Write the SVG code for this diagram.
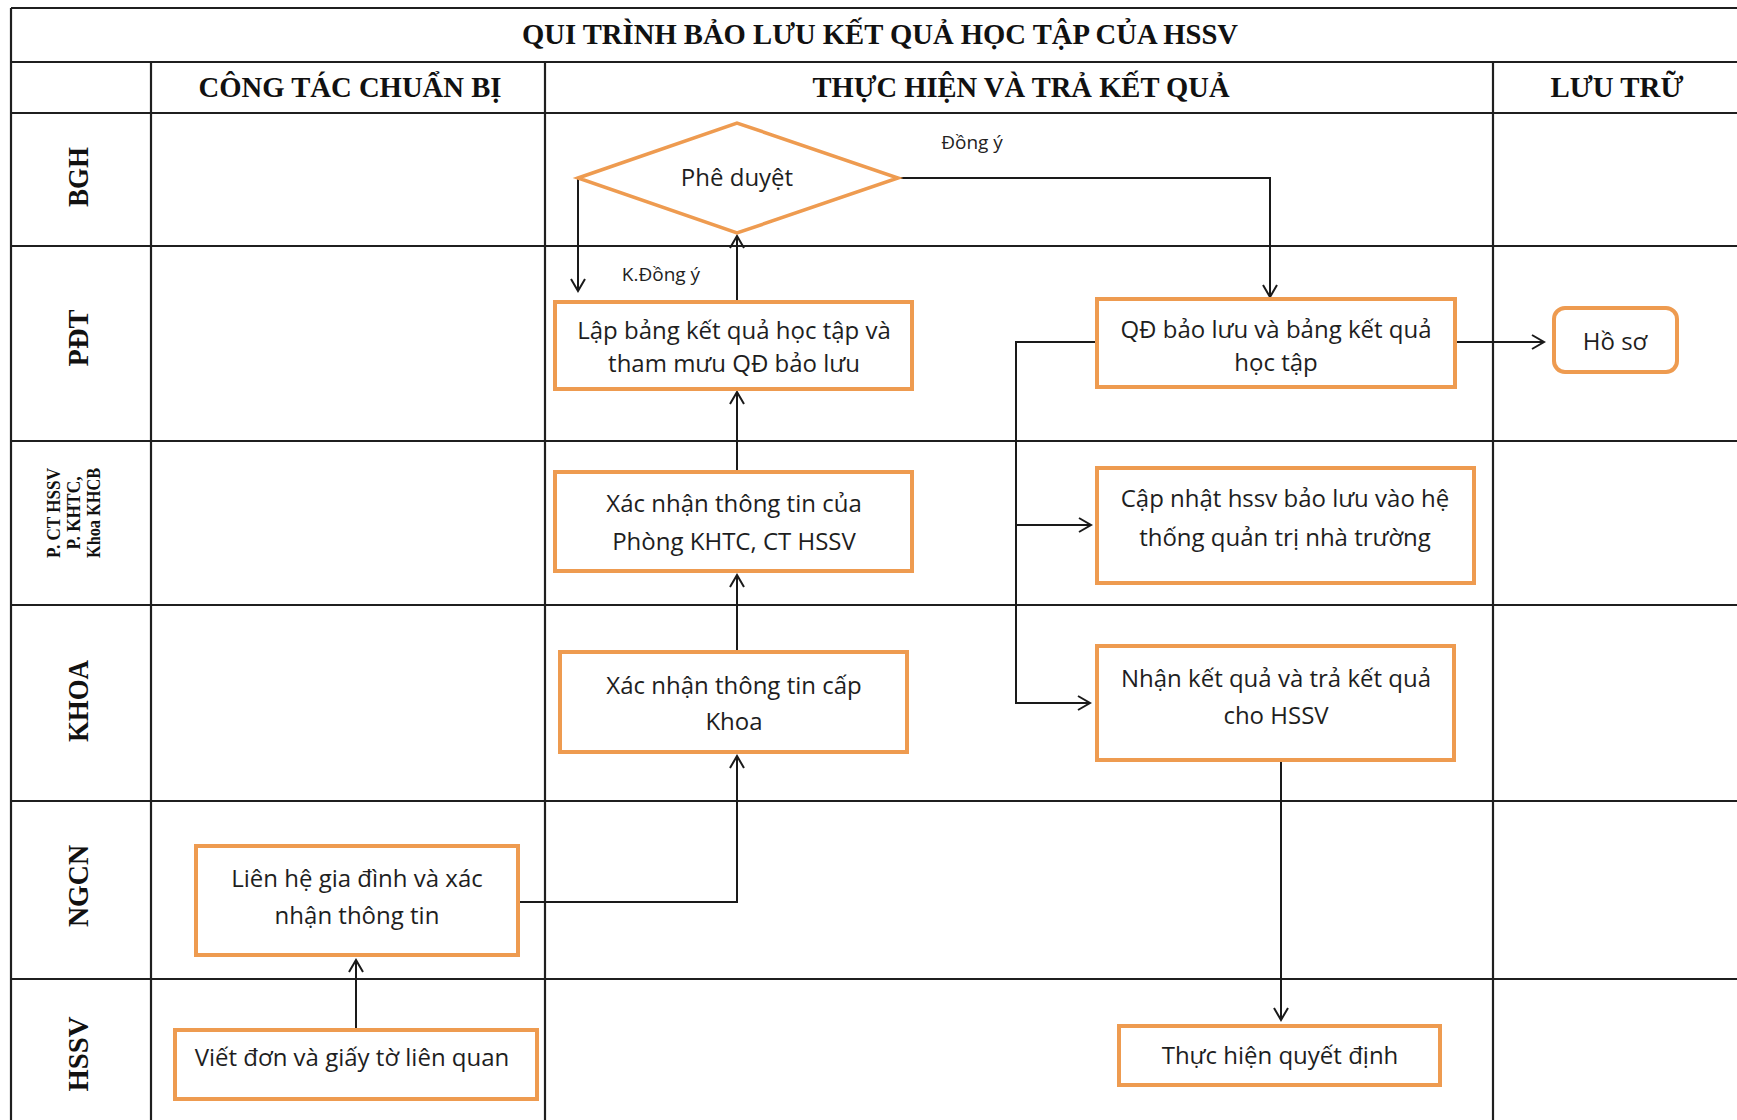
<svg xmlns="http://www.w3.org/2000/svg" width="1737" height="1120" viewBox="0 0 1737 1120">
<defs>
<marker id="arr" markerWidth="16" markerHeight="16" refX="13" refY="8" orient="auto" markerUnits="userSpaceOnUse">
<path d="M1,1 L13,8 L1,15" fill="none" stroke="#1a1a1a" stroke-width="2"/>
</marker>
<style>
.grid{stroke:#1f1f1f;stroke-width:2.2;fill:none}
.box{fill:#ffffff;stroke:#EE9B50;stroke-width:4}
.dia{fill:#ffffff;stroke:#EE9B50;stroke-width:3.5}
.t{font-family:"Open Sans","Noto Sans",sans-serif;font-size:24px;fill:#1e1e1e;text-anchor:middle}
.lbl{font-family:"Open Sans","Noto Sans",sans-serif;font-size:19px;fill:#222;text-anchor:middle}
.hd{font-family:"Liberation Serif","Times New Roman",serif;font-weight:bold;font-size:29px;fill:#111;text-anchor:middle}
.rl{font-family:"Liberation Serif","Times New Roman",serif;font-weight:bold;font-size:29px;fill:#111;text-anchor:middle}
.rs{font-family:"Liberation Serif","Times New Roman",serif;font-weight:bold;font-size:19px;fill:#111;text-anchor:middle}
.c{stroke:#1a1a1a;stroke-width:2;fill:none}
</style>
</defs>
<rect width="1737" height="1120" fill="#ffffff"/>
<g id="table">
<line class="grid" x1="11" y1="8" x2="1737" y2="8"/>
<line class="grid" x1="11" y1="8" x2="11" y2="1120"/>
<line class="grid" x1="11" y1="62" x2="1737" y2="62"/>
<line class="grid" x1="11" y1="113" x2="1737" y2="113"/>
<line class="grid" x1="11" y1="246" x2="1737" y2="246"/>
<line class="grid" x1="11" y1="441" x2="1737" y2="441"/>
<line class="grid" x1="11" y1="605" x2="1737" y2="605"/>
<line class="grid" x1="11" y1="801" x2="1737" y2="801"/>
<line class="grid" x1="11" y1="979" x2="1737" y2="979"/>
<line class="grid" x1="151" y1="62" x2="151" y2="1120"/>
<line class="grid" x1="545" y1="62" x2="545" y2="1120"/>
<line class="grid" x1="1493" y1="62" x2="1493" y2="1120"/>
<text class="hd" x="880" y="44" textLength="716" lengthAdjust="spacingAndGlyphs">QUI TRÌNH BẢO LƯU KẾT QUẢ HỌC TẬP CỦA HSSV</text>
<text class="hd" x="350" y="97" textLength="303" lengthAdjust="spacingAndGlyphs">CÔNG TÁC CHUẨN BỊ</text>
<text class="hd" x="1021" y="97" textLength="417" lengthAdjust="spacingAndGlyphs">THỰC HIỆN VÀ TRẢ KẾT QUẢ</text>
<text class="hd" x="1617" y="97" textLength="133" lengthAdjust="spacingAndGlyphs">LƯU TRỮ</text>
<text class="rl" transform="translate(88,177) rotate(-90)" textLength="60" lengthAdjust="spacingAndGlyphs">BGH</text>
<text class="rl" transform="translate(88,338) rotate(-90)" textLength="57" lengthAdjust="spacingAndGlyphs">PĐT</text>
<text class="rs" transform="translate(60,513) rotate(-90)" textLength="90" lengthAdjust="spacingAndGlyphs">P. CT HSSV</text>
<text class="rs" transform="translate(80,513) rotate(-90)" textLength="73" lengthAdjust="spacingAndGlyphs">P. KHTC,</text>
<text class="rs" transform="translate(100,513) rotate(-90)" textLength="90" lengthAdjust="spacingAndGlyphs">Khoa KHCB</text>
<text class="rl" transform="translate(88,701) rotate(-90)" textLength="82" lengthAdjust="spacingAndGlyphs">KHOA</text>
<text class="rl" transform="translate(88,886) rotate(-90)" textLength="82" lengthAdjust="spacingAndGlyphs">NGCN</text>
<text class="rl" transform="translate(88,1054) rotate(-90)" textLength="75" lengthAdjust="spacingAndGlyphs">HSSV</text>
</g>
<g id="connectors">
<path class="c" d="M356,1029 L356,960" marker-end="url(#arr)"/>
<path class="c" d="M518,902 L737,902 L737,756" marker-end="url(#arr)"/>
<path class="c" d="M737,651 L737,575" marker-end="url(#arr)"/>
<path class="c" d="M737,472 L737,392" marker-end="url(#arr)"/>
<path class="c" d="M737,301 L737,236" marker-end="url(#arr)"/>
<path class="c" d="M578,178 L578,291" marker-end="url(#arr)"/>
<path class="c" d="M898,178 L1270,178 L1270,297" marker-end="url(#arr)"/>
<path class="c" d="M1455,342 L1544,342" marker-end="url(#arr)"/>
<path class="c" d="M1097,342 L1016,342 L1016,703 L1090,703" marker-end="url(#arr)"/>
<path class="c" d="M1016,525 L1091,525" marker-end="url(#arr)"/>
<path class="c" d="M1281,760 L1281,1020" marker-end="url(#arr)"/>
<text class="lbl" x="661" y="281">K.Đồng ý</text>
<text class="lbl" x="972" y="149">Đồng ý</text>
</g>
<g id="n-pheduyet">
<polygon class="dia" points="578,178 737,123 898,178 737,233"/>
<text class="t" x="737" y="186">Phê duyệt</text>
</g>
<g id="n-lapbang">
<rect class="box" x="555" y="302" width="357" height="87"/>
<text class="t" x="734" y="339">Lập bảng kết quả học tập và</text>
<text class="t" x="734" y="372">tham mưu QĐ bảo lưu</text>
</g>
<g id="n-xacnhan-phong">
<rect class="box" x="555" y="472" width="357" height="99"/>
<text class="t" x="734" y="512">Xác nhận thông tin của</text>
<text class="t" x="734" y="550">Phòng KHTC, CT HSSV</text>
</g>
<g id="n-xacnhan-khoa">
<rect class="box" x="560" y="652" width="347" height="100"/>
<text class="t" x="734" y="694">Xác nhận thông tin cấp</text>
<text class="t" x="734" y="730">Khoa</text>
</g>
<g id="n-lienhe">
<rect class="box" x="196" y="846" width="322" height="109"/>
<text class="t" x="357" y="887">Liên hệ gia đình và xác</text>
<text class="t" x="357" y="924">nhận thông tin</text>
</g>
<g id="n-vietdon">
<rect class="box" x="175" y="1030" width="362" height="69"/>
<text class="t" x="352" y="1066">Viết đơn và giấy tờ liên quan</text>
</g>
<g id="n-qd">
<rect class="box" x="1097" y="299" width="358" height="88"/>
<text class="t" x="1276" y="338">QĐ bảo lưu và bảng kết quả</text>
<text class="t" x="1276" y="371">học tập</text>
</g>
<g id="n-hoso">
<rect class="box" x="1554" y="308" width="123" height="64" rx="11"/>
<text class="t" x="1615" y="350">Hồ sơ</text>
</g>
<g id="n-capnhat">
<rect class="box" x="1097" y="468" width="377" height="115"/>
<text class="t" x="1285" y="507">Cập nhật hssv bảo lưu vào hệ</text>
<text class="t" x="1285" y="546">thống quản trị nhà trường</text>
</g>
<g id="n-nhan">
<rect class="box" x="1097" y="646" width="357" height="114"/>
<text class="t" x="1276" y="687">Nhận kết quả và trả kết quả</text>
<text class="t" x="1276" y="724">cho HSSV</text>
</g>
<g id="n-thuchien">
<rect class="box" x="1119" y="1026" width="321" height="59"/>
<text class="t" x="1280" y="1064">Thực hiện quyết định</text>
</g>
</svg>
